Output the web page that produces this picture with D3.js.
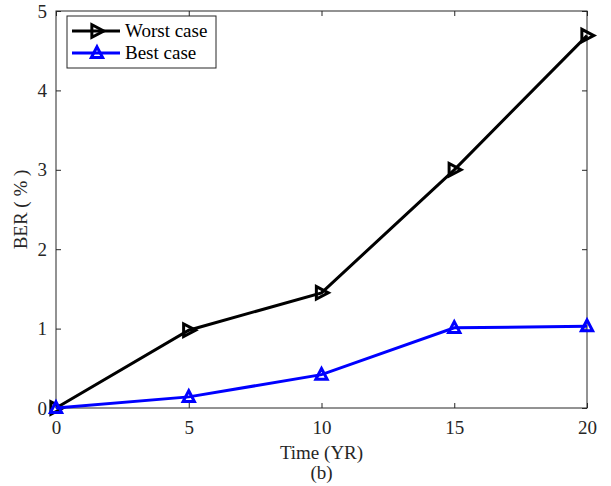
<!DOCTYPE html>
<html>
<head>
<meta charset="utf-8">
<script src="https://cdn.jsdelivr.net/npm/d3@7"></script>
<style>
  body { margin: 0; background: #fff; }
</style>
</head>
<body>
<script>
const years = [0, 5, 10, 15, 20];
const worstCase = [0, 0.98, 1.45, 3.0, 4.69];
const bestCase = [0, 0.14, 0.42, 1.01, 1.03];
const xTicks = [0, 5, 10, 15, 20];
const yTicks = [0, 1, 2, 3, 4, 5];

const w = 611, h = 486;
const pLeft = 56, pRight = 587, pTop = 11, pBottom = 408;
const serif = "'Liberation Serif', 'Times New Roman', serif";

const svg = d3.select("body").append("svg")
  .attr("width", w)
  .attr("height", h)
  .attr("font-family", serif);

const x = d3.scaleLinear().domain([0, 20]).range([pLeft, pRight]);
const y = d3.scaleLinear().domain([0, 5]).range([pBottom, pTop]);

// box
svg.append("rect")
  .attr("x", pLeft).attr("y", pTop)
  .attr("width", pRight - pLeft).attr("height", pBottom - pTop)
  .attr("fill", "none").attr("stroke", "#262626").attr("stroke-width", 1);

// axes with inward ticks
const fmt = d3.format("d");
const xAxis = svg.append("g").attr("transform", `translate(0,${pBottom})`)
  .call(d3.axisBottom(x).tickValues(xTicks).tickFormat(fmt).tickSizeInner(-5).tickSizeOuter(0).tickPadding(13));
const xTop = svg.append("g").attr("transform", `translate(0,${pTop})`)
  .call(d3.axisTop(x).tickValues(xTicks).tickSizeInner(-5).tickSizeOuter(0).tickFormat(""));
const yAxis = svg.append("g").attr("transform", `translate(${pLeft},0)`)
  .call(d3.axisLeft(y).tickValues(yTicks).tickFormat(fmt).tickSizeInner(-5).tickSizeOuter(0).tickPadding(9));
const yRight = svg.append("g").attr("transform", `translate(${pRight},0)`)
  .call(d3.axisRight(y).tickValues(yTicks).tickSizeInner(-5).tickSizeOuter(0).tickFormat(""));

[xAxis, xTop, yAxis, yRight].forEach(g => {
  g.attr("font-family", serif).attr("font-size", 19);
  g.select(".domain").remove();
  g.selectAll("line").attr("stroke", "#262626");
  g.selectAll("text").attr("fill", "#262626");
});

// labels
svg.append("text")
  .attr("x", (pLeft + pRight) / 2).attr("y", 459)
  .attr("text-anchor", "middle").attr("font-size", 19).attr("fill", "#262626")
  .text("Time (YR)");
svg.append("text")
  .attr("x", (pLeft + pRight) / 2).attr("y", 479)
  .attr("text-anchor", "middle").attr("font-size", 19).attr("fill", "#262626")
  .text("(b)");
svg.append("text")
  .attr("transform", `translate(27,${(pTop + pBottom) / 2}) rotate(-90)`)
  .attr("text-anchor", "middle").attr("font-size", 19).attr("fill", "#262626")
  .text("BER ( % )");

const line = d3.line().x((d, i) => x(years[i])).y(d => y(d));

const triRight = d3.symbol().type({
  draw(ctx, size) {
    const r = Math.sqrt(size);
    ctx.moveTo(r * 0.6, 0);
    ctx.lineTo(-r * 0.45, -r * 0.55);
    ctx.lineTo(-r * 0.45, r * 0.55);
    ctx.closePath();
  }
}).size(130);
const triUp = d3.symbol().type({
  draw(ctx, size) {
    const r = Math.sqrt(size);
    ctx.moveTo(0, -r * 0.6);
    ctx.lineTo(r * 0.55, r * 0.45);
    ctx.lineTo(-r * 0.55, r * 0.45);
    ctx.closePath();
  }
}).size(105);

function drawSeries(vals, color, sym) {
  svg.append("path").datum(vals)
    .attr("d", line)
    .attr("fill", "none").attr("stroke", color).attr("stroke-width", 3);
  svg.append("g").selectAll("path")
    .data(vals).enter().append("path")
    .attr("transform", (d, i) => `translate(${x(years[i])},${y(d)})`)
    .attr("d", sym)
    .attr("fill", "none").attr("stroke", color).attr("stroke-width", 3);
}
drawSeries(worstCase, "#000", triRight);
drawSeries(bestCase, "#0000ff", triUp);

// legend
const lg = svg.append("g").attr("transform", "translate(67,16)");
lg.append("rect").attr("width", 149).attr("height", 52)
  .attr("fill", "#fff").attr("stroke", "#262626").attr("stroke-width", 1);
const legendItems = [
  { name: "Worst case", color: "#000", sym: triRight },
  { name: "Best case", color: "#0000ff", sym: triUp }
];
legendItems.forEach((d, i) => {
  const cy = 15 + i * 22;
  lg.append("line").attr("x1", 5).attr("x2", 53).attr("y1", cy).attr("y2", cy)
    .attr("stroke", d.color).attr("stroke-width", 3);
  lg.append("path").attr("transform", `translate(30,${cy})`).attr("d", d.sym)
    .attr("fill", "none").attr("stroke", d.color).attr("stroke-width", 3);
  lg.append("text").attr("x", 58).attr("y", cy + 6)
    .attr("font-size", 19).attr("fill", "#000").text(d.name);
});
</script>
</body>
</html>
